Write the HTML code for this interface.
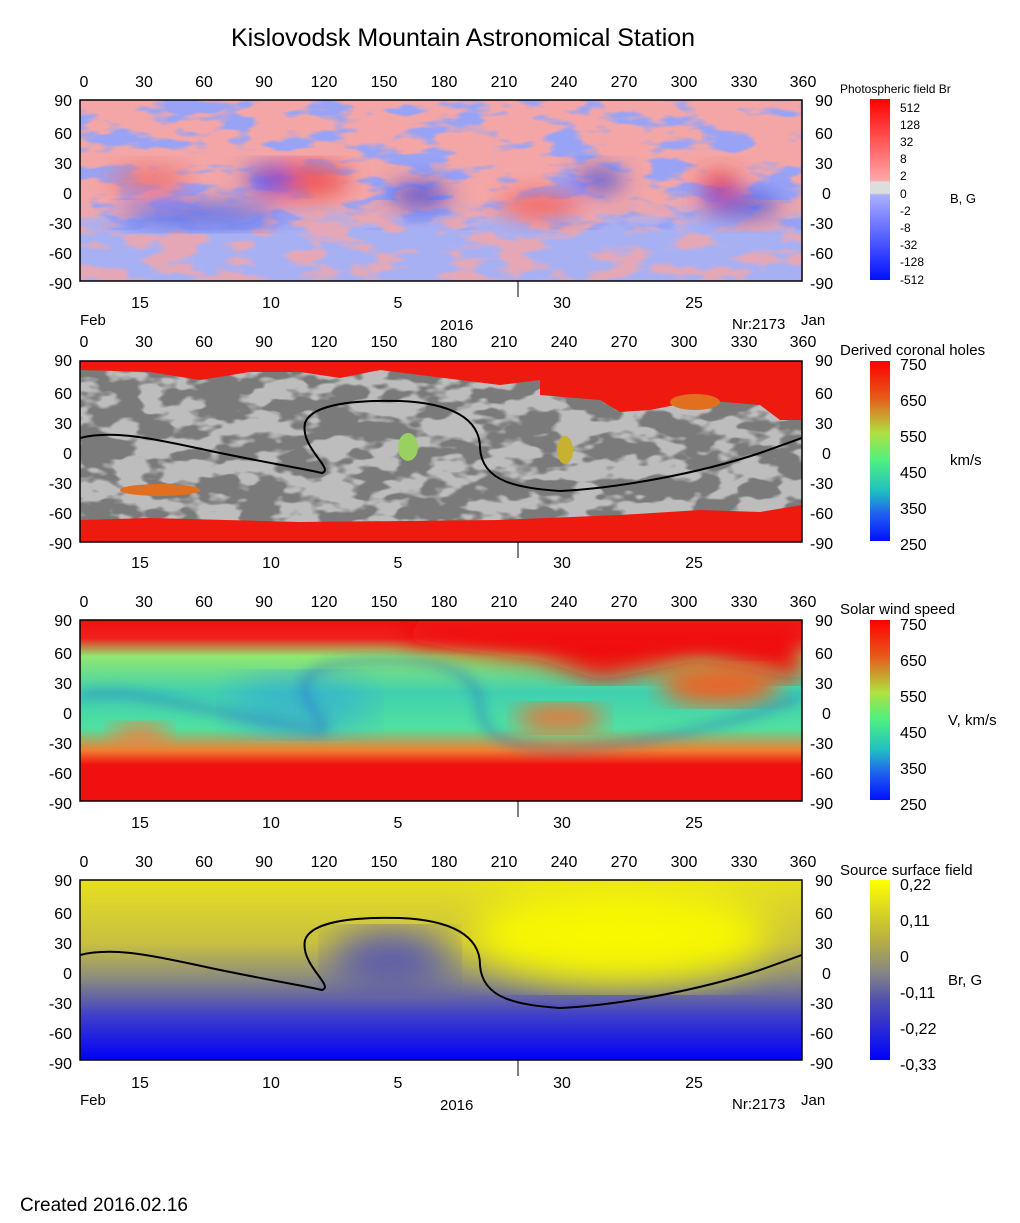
<!DOCTYPE html>
<html><head><meta charset="utf-8"><style>
body{margin:0;background:#fff;}
svg{display:block;font-family:"Liberation Sans",Arial,sans-serif;}
</style></head><body>
<svg width="1020" height="1223" viewBox="0 0 1020 1223" xmlns="http://www.w3.org/2000/svg">
<defs>
<filter id="b6"><feGaussianBlur stdDeviation="6"/></filter>
<filter id="b12"><feGaussianBlur stdDeviation="12"/></filter>
<filter id="b20"><feGaussianBlur stdDeviation="20"/></filter>
<filter id="nblue" x="0" y="0" width="100%" height="100%" color-interpolation-filters="sRGB">
<feTurbulence type="fractalNoise" baseFrequency="0.02 0.06" numOctaves="3" seed="4"/>
<feColorMatrix type="matrix" values="0 0 0 0 0.6  0 0 0 0 0.64  0 0 0 0 0.96  0 0 0 -7 3.6"/>
</filter>
<filter id="npink" x="0" y="0" width="100%" height="100%" color-interpolation-filters="sRGB">
<feTurbulence type="fractalNoise" baseFrequency="0.02 0.06" numOctaves="3" seed="9"/>
<feColorMatrix type="matrix" values="0 0 0 0 0.96  0 0 0 0 0.65  0 0 0 0 0.65  0 0 0 -7 3.6"/>
</filter>
<filter id="ngrey" x="0" y="0" width="100%" height="100%" color-interpolation-filters="sRGB">
<feTurbulence type="fractalNoise" baseFrequency="0.025 0.05" numOctaves="3" seed="2"/>
<feColorMatrix type="matrix" values="0 0 0 0 0.48  0 0 0 0 0.48  0 0 0 0 0.48  0 0 0 -10 5.6"/>
</filter>
<linearGradient id="cb1" x1="0" y1="0" x2="0" y2="1">
<stop offset="0" stop-color="#f00"/><stop offset="0.45" stop-color="#ffa8a8"/><stop offset="0.46" stop-color="#ddd"/><stop offset="0.52" stop-color="#ddd"/><stop offset="0.53" stop-color="#aab0ff"/><stop offset="1" stop-color="#0010ff"/>
</linearGradient>
<linearGradient id="cbv" x1="0" y1="0" x2="0" y2="1">
<stop offset="0" stop-color="#f00"/><stop offset="0.2" stop-color="#e8581a"/><stop offset="0.4" stop-color="#b0e040"/><stop offset="0.55" stop-color="#50f080"/><stop offset="0.72" stop-color="#20c0c0"/><stop offset="0.85" stop-color="#2060f0"/><stop offset="1" stop-color="#0010ff"/>
</linearGradient>
<linearGradient id="cbs" x1="0" y1="0" x2="0" y2="1">
<stop offset="0" stop-color="#ffff00"/><stop offset="0.33" stop-color="#b8b040"/><stop offset="0.5" stop-color="#8a8a80"/><stop offset="0.67" stop-color="#5050b0"/><stop offset="1" stop-color="#0000ff"/>
</linearGradient>
<linearGradient id="p4" x1="0" y1="0" x2="0" y2="1">
<stop offset="0" stop-color="#e6e020"/><stop offset="0.35" stop-color="#c8c040"/><stop offset="0.55" stop-color="#8a8a80"/><stop offset="0.75" stop-color="#4040c8"/><stop offset="1" stop-color="#0000f8"/>
</linearGradient>
<linearGradient id="p3" x1="0" y1="0" x2="0" y2="1">
<stop offset="0" stop-color="#f01010"/><stop offset="0.1" stop-color="#f02020"/><stop offset="0.2" stop-color="#90e870"/><stop offset="0.4" stop-color="#40d0b0"/><stop offset="0.6" stop-color="#50e0a0"/><stop offset="0.72" stop-color="#f08030"/><stop offset="0.8" stop-color="#f01010"/><stop offset="1" stop-color="#f01010"/>
</linearGradient>
<linearGradient id="p1" x1="0" y1="0" x2="0" y2="1">
<stop offset="0" stop-color="#f4a6a6"/><stop offset="0.55" stop-color="#f4a6a6"/><stop offset="0.7" stop-color="#a8b0f4"/><stop offset="1" stop-color="#a8b0f4"/>
</linearGradient>
<clipPath id="c1"><rect x="80" y="100" width="722" height="181"/></clipPath>
<clipPath id="c2"><rect x="80" y="361" width="722" height="181"/></clipPath>
<clipPath id="c3"><rect x="80" y="620" width="722" height="181"/></clipPath>
<clipPath id="c4"><rect x="80" y="880" width="722" height="180"/></clipPath>
</defs>

<text x="463" y="46" font-size="25" text-anchor="middle">Kislovodsk Mountain Astronomical Station</text>

<!-- Panel 1 -->
<g clip-path="url(#c1)">
<rect x="80" y="100" width="722" height="181" fill="url(#p1)"/>
<rect x="80" y="100" width="722" height="130" fill="#9aa4f4" filter="url(#nblue)"/>
<rect x="80" y="200" width="722" height="81" fill="#f4a6a6" filter="url(#npink)" opacity="0.8"/>
<g filter="url(#b12)">
<ellipse cx="300" cy="180" rx="50" ry="18" fill="#ee5555"/>
<ellipse cx="270" cy="178" rx="25" ry="10" fill="#3040e0"/>
<ellipse cx="420" cy="195" rx="30" ry="10" fill="#3040e0"/>
<ellipse cx="540" cy="205" rx="40" ry="12" fill="#f06060"/>
<ellipse cx="720" cy="185" rx="20" ry="10" fill="#e03030"/>
<ellipse cx="740" cy="205" rx="40" ry="10" fill="#4050e0"/>
<ellipse cx="200" cy="215" rx="80" ry="12" fill="#6070e8"/>
<ellipse cx="600" cy="180" rx="25" ry="10" fill="#4050e0"/>
<ellipse cx="150" cy="180" rx="40" ry="12" fill="#ef7070"/>
</g>
</g>
<rect x="80" y="100" width="722" height="181" fill="none" stroke="#000" stroke-width="1.5"/>

<!-- Panel 2 -->
<g clip-path="url(#c2)">
<rect x="80" y="361" width="722" height="181" fill="#bdbdbd"/>
<rect x="80" y="361" width="722" height="181" fill="#7a7a7a" filter="url(#ngrey)"/>
<path d="M80,361 H802 V420 L780,420 760,405 700,400 650,410 620,412 600,400 540,395 540,380 500,385 420,375 380,370 340,378 300,372 250,372 200,380 150,372 80,370 Z" fill="#ee1a10"/>
<path d="M80,520 L150,518 300,522 500,520 620,515 700,510 760,512 802,505 V542 H80 Z" fill="#ee1a10"/>
<ellipse cx="160" cy="490" rx="40" ry="6" fill="#e07020"/>
<ellipse cx="408" cy="447" rx="10" ry="14" fill="#9ad060"/>
<ellipse cx="565" cy="450" rx="8" ry="14" fill="#c8b030"/>
<ellipse cx="695" cy="402" rx="25" ry="8" fill="#e07020"/>
<path transform="translate(0,-517)" d="M80,955 C120,945 170,960 230,972 S300,985 322,990 C335,986 300,965 305,940 C312,920 360,917 400,918 C450,920 480,935 480,965 C482,1000 520,1005 560,1008 C620,1005 700,990 760,970 L802,955" fill="none" stroke="#000" stroke-width="2"/>
</g>
<rect x="80" y="361" width="722" height="181" fill="none" stroke="#000" stroke-width="1.5"/>

<!-- Panel 3 -->
<g clip-path="url(#c3)">
<rect x="80" y="620" width="722" height="181" fill="url(#p3)"/>
<path d="M420,620 L802,620 V680 L700,660 600,680 540,660 460,650 400,640 Z" fill="#f01010" filter="url(#b12)"/>
<ellipse cx="140" cy="735" rx="30" ry="12" fill="#f08040" filter="url(#b12)"/>
<ellipse cx="560" cy="718" rx="45" ry="14" fill="#f07030" filter="url(#b12)"/>
<ellipse cx="720" cy="685" rx="60" ry="20" fill="#f06020" filter="url(#b12)"/>
<ellipse cx="300" cy="705" rx="70" ry="30" fill="#30a0e0" filter="url(#b20)" opacity="0.6"/>
<path transform="translate(0,-258)" d="M80,955 C120,945 170,960 230,972 S300,985 322,990 C335,986 300,965 305,940 C312,920 360,917 400,918 C450,920 480,935 480,965 C482,1000 520,1005 560,1008 C620,1005 700,990 760,970 L802,955" fill="none" stroke="#2050d0" stroke-width="5" opacity="0.6" filter="url(#b6)"/>
</g>
<rect x="80" y="620" width="722" height="181" fill="none" stroke="#000" stroke-width="1.5"/>

<!-- Panel 4 -->
<g clip-path="url(#c4)">
<rect x="80" y="880" width="722" height="180" fill="url(#p4)"/>
<ellipse cx="620" cy="935" rx="150" ry="50" fill="#f8f800" filter="url(#b20)"/>
<ellipse cx="390" cy="960" rx="60" ry="30" fill="#5858b0" filter="url(#b20)"/>
<path d="M80,955 C120,945 170,960 230,972 S300,985 322,990 C335,986 300,965 305,940 C312,920 360,917 400,918 C450,920 480,935 480,965 C482,1000 520,1005 560,1008 C620,1005 700,990 760,970 L802,955" fill="none" stroke="#000" stroke-width="2"/>
</g>
<rect x="80" y="880" width="722" height="180" fill="none" stroke="#000" stroke-width="1.5"/>

<g id="axes" font-size="16" fill="#000">
<g text-anchor="middle">
<text x="84" y="87">0</text><text x="144" y="87">30</text><text x="204" y="87">60</text><text x="264" y="87">90</text><text x="324" y="87">120</text><text x="384" y="87">150</text><text x="444" y="87">180</text><text x="504" y="87">210</text><text x="564" y="87">240</text><text x="624" y="87">270</text><text x="684" y="87">300</text><text x="744" y="87">330</text><text x="803" y="87">360</text>
</g>
<g text-anchor="middle" transform="translate(0,260)">
<text x="84" y="87">0</text><text x="144" y="87">30</text><text x="204" y="87">60</text><text x="264" y="87">90</text><text x="324" y="87">120</text><text x="384" y="87">150</text><text x="444" y="87">180</text><text x="504" y="87">210</text><text x="564" y="87">240</text><text x="624" y="87">270</text><text x="684" y="87">300</text><text x="744" y="87">330</text><text x="803" y="87">360</text>
</g>
<g text-anchor="middle" transform="translate(0,520)">
<text x="84" y="87">0</text><text x="144" y="87">30</text><text x="204" y="87">60</text><text x="264" y="87">90</text><text x="324" y="87">120</text><text x="384" y="87">150</text><text x="444" y="87">180</text><text x="504" y="87">210</text><text x="564" y="87">240</text><text x="624" y="87">270</text><text x="684" y="87">300</text><text x="744" y="87">330</text><text x="803" y="87">360</text>
</g>
<g text-anchor="middle" transform="translate(0,780)">
<text x="84" y="87">0</text><text x="144" y="87">30</text><text x="204" y="87">60</text><text x="264" y="87">90</text><text x="324" y="87">120</text><text x="384" y="87">150</text><text x="444" y="87">180</text><text x="504" y="87">210</text><text x="564" y="87">240</text><text x="624" y="87">270</text><text x="684" y="87">300</text><text x="744" y="87">330</text><text x="803" y="87">360</text>
</g>
</g>

<g font-size="16">
<g text-anchor="end"><text x="72" y="106">90</text><text x="72" y="139">60</text><text x="72" y="169">30</text><text x="72" y="199">0</text><text x="72" y="229">-30</text><text x="72" y="259">-60</text><text x="72" y="289">-90</text></g>
<g text-anchor="start"><text x="815" y="106">90</text><text x="815" y="139">60</text><text x="815" y="169">30</text><text x="822" y="199">0</text><text x="810" y="229">-30</text><text x="810" y="259">-60</text><text x="810" y="289">-90</text></g>
<g transform="translate(0,260)">
<g text-anchor="end"><text x="72" y="106">90</text><text x="72" y="139">60</text><text x="72" y="169">30</text><text x="72" y="199">0</text><text x="72" y="229">-30</text><text x="72" y="259">-60</text><text x="72" y="289">-90</text></g>
<g text-anchor="start"><text x="815" y="106">90</text><text x="815" y="139">60</text><text x="815" y="169">30</text><text x="822" y="199">0</text><text x="810" y="229">-30</text><text x="810" y="259">-60</text><text x="810" y="289">-90</text></g>
</g>
<g transform="translate(0,520)">
<g text-anchor="end"><text x="72" y="106">90</text><text x="72" y="139">60</text><text x="72" y="169">30</text><text x="72" y="199">0</text><text x="72" y="229">-30</text><text x="72" y="259">-60</text><text x="72" y="289">-90</text></g>
<g text-anchor="start"><text x="815" y="106">90</text><text x="815" y="139">60</text><text x="815" y="169">30</text><text x="822" y="199">0</text><text x="810" y="229">-30</text><text x="810" y="259">-60</text><text x="810" y="289">-90</text></g>
</g>
<g transform="translate(0,780)">
<g text-anchor="end"><text x="72" y="106">90</text><text x="72" y="139">60</text><text x="72" y="169">30</text><text x="72" y="199">0</text><text x="72" y="229">-30</text><text x="72" y="259">-60</text><text x="72" y="289">-90</text></g>
<g text-anchor="start"><text x="815" y="106">90</text><text x="815" y="139">60</text><text x="815" y="169">30</text><text x="822" y="199">0</text><text x="810" y="229">-30</text><text x="810" y="259">-60</text><text x="810" y="289">-90</text></g>
</g>
</g>

<g font-size="16" text-anchor="middle">
<text x="140" y="308">15</text><text x="271" y="308">10</text><text x="398" y="308">5</text><text x="562" y="308">30</text><text x="694" y="308">25</text>
<text x="140" y="568">15</text><text x="271" y="568">10</text><text x="398" y="568">5</text><text x="562" y="568">30</text><text x="694" y="568">25</text>
<text x="140" y="828">15</text><text x="271" y="828">10</text><text x="398" y="828">5</text><text x="562" y="828">30</text><text x="694" y="828">25</text>
<text x="140" y="1088">15</text><text x="271" y="1088">10</text><text x="398" y="1088">5</text><text x="562" y="1088">30</text><text x="694" y="1088">25</text>
</g>
<g font-size="15">
<text x="80" y="325">Feb</text><text x="440" y="330">2016</text><text x="732" y="329">Nr:2173</text><text x="801" y="325">Jan</text>
<text x="80" y="1105">Feb</text><text x="440" y="1110">2016</text><text x="732" y="1109">Nr:2173</text><text x="801" y="1105">Jan</text>
</g>
<g stroke="#000" stroke-width="1">
<line x1="518" y1="281" x2="518" y2="297"/><line x1="518" y1="542" x2="518" y2="558"/><line x1="518" y1="801" x2="518" y2="817"/><line x1="518" y1="1060" x2="518" y2="1076"/>
</g>

<rect x="870" y="99" width="20" height="181" fill="url(#cb1)"/>
<text x="840" y="93" font-size="12">Photospheric field Br</text>
<g font-size="12"><text x="900" y="112">512</text><text x="900" y="129">128</text><text x="900" y="146">32</text><text x="900" y="163">8</text><text x="900" y="180">2</text><text x="900" y="198">0</text><text x="900" y="215">-2</text><text x="900" y="232">-8</text><text x="900" y="249">-32</text><text x="900" y="266">-128</text><text x="900" y="284">-512</text></g>
<text x="950" y="203" font-size="13">B, G</text>

<rect x="870" y="361" width="20" height="180" fill="url(#cbv)"/>
<text x="840" y="355" font-size="15">Derived coronal holes</text>
<g font-size="16"><text x="900" y="370">750</text><text x="900" y="406">650</text><text x="900" y="442">550</text><text x="900" y="478">450</text><text x="900" y="514">350</text><text x="900" y="550">250</text></g>
<text x="950" y="465" font-size="15">km/s</text>

<rect x="870" y="620" width="20" height="180" fill="url(#cbv)"/>
<text x="840" y="614" font-size="15">Solar wind speed</text>
<g font-size="16"><text x="900" y="630">750</text><text x="900" y="666">650</text><text x="900" y="702">550</text><text x="900" y="738">450</text><text x="900" y="774">350</text><text x="900" y="810">250</text></g>
<text x="948" y="725" font-size="15">V, km/s</text>

<rect x="870" y="880" width="20" height="180" fill="url(#cbs)"/>
<text x="840" y="875" font-size="15">Source surface field</text>
<g font-size="16"><text x="900" y="890">0,22</text><text x="900" y="926">0,11</text><text x="900" y="962">0</text><text x="900" y="998">-0,11</text><text x="900" y="1034">-0,22</text><text x="900" y="1070">-0,33</text></g>
<text x="948" y="985" font-size="15">Br, G</text>

<text x="20" y="1211" font-size="19">Created  2016.02.16</text>
</svg>
</body></html>
